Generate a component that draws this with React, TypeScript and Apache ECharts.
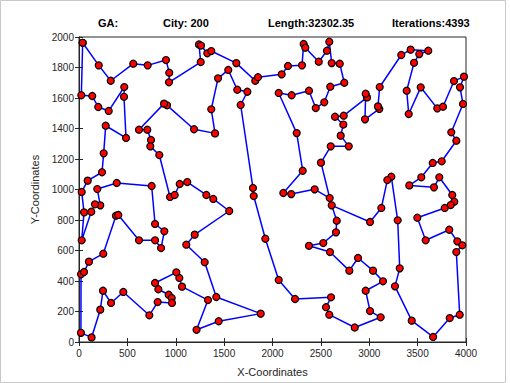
import React, { useEffect, useRef } from "react";
import * as echarts from "echarts";

const titleParts = ["GA:", "City: 200", "Length:32302.35", "Iterations:4393"];
const xTicks = [0, 500, 1000, 1500, 2000, 2500, 3000, 3500, 4000];
const yTicks = [0, 200, 400, 600, 800, 1000, 1200, 1400, 1600, 1800, 2000];

// tour order (city coordinates)
const tourX = [
  38, 204, 328, 561, 710, 899, 933, 930, 1258, 1240, 1261, 1326, 1367, 1626, 1822, 1850,
  2095, 2160, 2305, 2322, 2339, 2478, 2563, 2587, 2612, 2695, 2742, 2597, 2535, 2447, 2377, 2198, 2064,
  2250, 2312, 2112, 2194, 2436, 2591, 2501, 2602, 2788, 2705, 2732, 2646, 2736,
  2977, 2963, 2956, 3104, 3090, 3108, 3331, 3428, 3610, 3517, 3463, 3387, 3408, 3532, 3703, 3762,
  3876, 3979, 3938, 3969, 3848, 3900, 3749, 3656, 3538, 3414, 3669, 3724, 3858, 3879, 3842, 3780,
  3497, 3583, 3827, 3910, 3962, 3900, 3935, 3832, 3660, 3439, 3266, 3315, 3294, 3228, 3187, 3125,
  3008, 2612, 2664, 2656, 2525, 2377, 2594, 2794, 2884, 3039, 3142, 2963, 3008, 3118, 2850,
  2587, 2553, 2605, 2233, 2064, 1926, 1806, 1798, 1671, 1740, 1636, 1543, 1437, 1367, 1406, 1189,
  910, 879, 620, 706, 744, 737, 830, 941, 989, 1041, 1119, 1316, 1388, 1553, 1196, 1109, 1299, 1419,
  1878, 1444, 1215, 1333, 1065, 1037, 1006, 786, 820, 927, 958, 961, 813, 727, 458, 331, 248, 220, 130, 20,
  21, 52, 103, 251, 382, 406, 620, 786, 848, 882, 786, 751, 390, 189, 220, 165, 127, 28, 52, 28,
  90, 238, 255, 276, 486, 465, 468, 307, 199, 137, 24,
];
const tourY = [
  1962, 1814, 1713, 1825, 1814, 1849, 1766, 1703, 1836, 1951, 1944, 1893, 1908, 1829, 1713, 1736,
  1755, 1810, 1814, 1954, 1930, 1838, 1910, 1969, 1829, 1825, 1700, 1674, 1572, 1534, 1648, 1618, 1633,
  1370, 1123, 977, 970, 1001, 944, 1176, 1283, 1283, 1353, 1426, 1477, 1484,
  1604, 1628, 1460, 1528, 1545, 1672, 1882, 1917, 1910, 1888, 1831, 1648, 1495, 1670, 1532, 1543,
  1711, 1740, 1670, 1561, 1375, 1320, 1185, 1174, 1080, 1027, 1014, 1080, 964, 920, 898, 879,
  815, 667, 736, 660, 634, 590, 179, 157, 33, 140, 365, 483, 798, 1084, 1062, 879,
  787, 896, 795, 719, 649, 631, 590, 468, 551, 468, 398, 336, 203, 162, 95,
  179, 228, 293, 282, 407, 677, 957, 1010, 1554, 1641, 1654, 1784, 1729, 1526, 1368, 1395,
  1552, 1563, 1392, 1392, 1325, 1283, 1226, 951, 964, 1036, 1049, 964, 938, 859, 704, 638, 523, 295,
  186, 136, 80, 275, 363, 420, 457, 387, 346, 310, 289, 256, 262, 175, 328, 256, 336, 212, 30, 60,
  444, 459, 527, 579, 828, 833, 667, 667, 616, 726, 774, 1023, 1043, 1003, 896, 903, 854, 667, 850, 984,
  1058, 1113, 1237, 1418, 1338, 1608, 1672, 1515, 1541, 1613, 1618,
];

export default function App() {
  const ref = useRef<HTMLDivElement>(null);
  useEffect(() => {
    if (!ref.current) return;
    const chart = echarts.init(ref.current, undefined, { renderer: "svg" });
    const pts = tourX.map((x, i) => [x, tourY[i]]);
    pts.push([tourX[0], tourY[0]]);
    const axisColor = "#262626";
    const font = "Liberation Sans, Arial, sans-serif";
    const titleLefts = [98, 163, 268, 392];
    const plain = (v: number) => String(v);
    chart.setOption({
      animation: false,
      backgroundColor: "#ffffff",
      title: titleParts.map((t, i) => ({
        text: t,
        left: titleLefts[i],
        top: 17,
        textStyle: { fontSize: 11, fontWeight: "bold", color: "#000", fontFamily: font },
        padding: 0,
      })),
      grid: { left: 79, right: 44, top: 37, bottom: 41, show: true, borderColor: axisColor, borderWidth: 1 },
      xAxis: [
        {
          type: "value", min: xTicks[0], max: xTicks[xTicks.length - 1], interval: 500,
          name: "X-Coordinates", nameLocation: "middle", nameGap: 24,
          nameTextStyle: { fontSize: 11, color: axisColor, fontFamily: font },
          axisLine: { show: true, lineStyle: { color: axisColor } },
          axisTick: { show: true, inside: true, length: 4, lineStyle: { color: axisColor } },
          axisLabel: { fontSize: 10, color: axisColor, fontFamily: font, margin: 6, formatter: plain },
          splitLine: { show: false },
        },
        {
          type: "value", min: xTicks[0], max: xTicks[xTicks.length - 1], interval: 500, position: "top",
          axisLine: { show: true, lineStyle: { color: axisColor } },
          axisTick: { show: true, inside: true, length: 4, lineStyle: { color: axisColor } },
          axisLabel: { show: false }, splitLine: { show: false },
        },
      ],
      yAxis: [
        {
          type: "value", min: yTicks[0], max: yTicks[yTicks.length - 1], interval: 200,
          name: "Y-Coordinates", nameLocation: "middle", nameGap: 38,
          nameTextStyle: { fontSize: 11, color: axisColor, fontFamily: font },
          axisLine: { show: true, lineStyle: { color: axisColor } },
          axisTick: { show: true, inside: true, length: 4, lineStyle: { color: axisColor } },
          axisLabel: { fontSize: 10, color: axisColor, fontFamily: font, margin: 5, formatter: plain },
          splitLine: { show: false },
        },
        {
          type: "value", min: yTicks[0], max: yTicks[yTicks.length - 1], interval: 200, position: "right",
          axisLine: { show: true, lineStyle: { color: axisColor } },
          axisTick: { show: true, inside: true, length: 4, lineStyle: { color: axisColor } },
          axisLabel: { show: false }, splitLine: { show: false },
        },
      ],
      graphic: [
        { type: "rect", shape: { x: 0.5, y: 0.5, width: 505, height: 382 }, style: { fill: "none", stroke: "#c8c8c8", lineWidth: 1 }, silent: true },
      ],
      series: [
        {
          type: "line",
          data: pts,
          xAxisIndex: 0,
          yAxisIndex: 0,
          symbol: "circle",
          symbolSize: 7,
          lineStyle: { color: "#0000ff", width: 1.5 },
          itemStyle: { color: "#ff0000", borderColor: "#000000", borderWidth: 1.2 },
          z: 3,
        },
      ],
    });
    return () => chart.dispose();
  }, []);
  return <div ref={ref} style={{ position: "fixed", left: 0, top: 0, width: 510, height: 383 }} />;
}
